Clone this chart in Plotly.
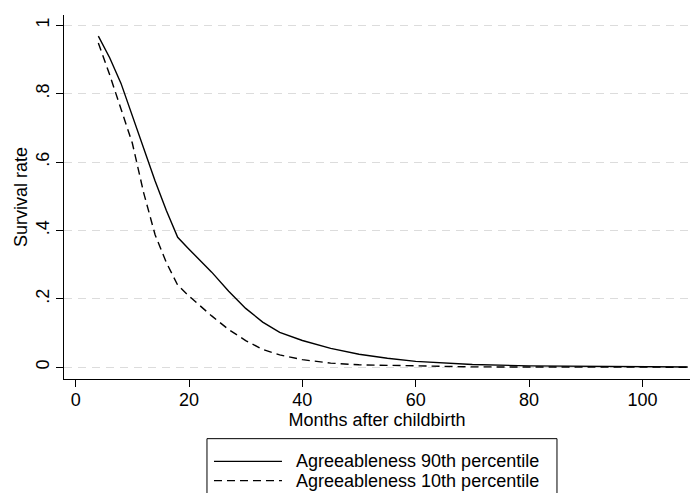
import plotly.graph_objects as go

months_90 = [4, 6, 8, 10, 12, 14, 16, 18, 20, 22, 24, 27, 30, 33, 36, 40, 45, 50, 55, 60, 65, 70, 80, 90, 100, 108]
surv_90 = [0.968, 0.905, 0.83, 0.735, 0.635, 0.545, 0.458, 0.380, 0.345, 0.310, 0.278, 0.222, 0.172, 0.132,
           0.102, 0.078, 0.055, 0.038, 0.026, 0.017, 0.012, 0.008, 0.004, 0.002, 0.001, 0.0005]

months_10 = [4, 6, 8, 10, 12, 14, 16, 18, 20, 22, 24, 27, 30, 33, 36, 40, 45, 50, 55, 60, 70, 80, 90, 100, 108]
surv_10 = [0.948, 0.855, 0.755, 0.655, 0.51, 0.388, 0.306, 0.240, 0.208, 0.178, 0.150, 0.110, 0.078, 0.052,
           0.036, 0.022, 0.012, 0.007, 0.005, 0.003, 0.001, 0.0005, 0.0002, 0.0001, 0.0]

name_90 = "Agreeableness 90th percentile"
name_10 = "Agreeableness 10th percentile"

y_tickvals = [0, 0.2, 0.4, 0.6, 0.8, 1]
y_ticktext = ["0", ".2", ".4", ".6", ".8", "1"]
x_tickvals = [0, 20, 40, 60, 80, 100]

FONT = "Liberation Sans, Arial, Helvetica, sans-serif"

fig = go.Figure()
fig.add_trace(go.Scatter(x=months_90, y=surv_90, mode="lines", name=name_90, showlegend=False,
                         line=dict(color="black", width=1.4)))
fig.add_trace(go.Scatter(x=months_10, y=surv_10, mode="lines", name=name_10, showlegend=False,
                         line=dict(color="black", width=1.4, dash="8px,5px")))

# legend drawn manually (Stata style box below plot)
fig.add_shape(type="rect", xref="paper", yref="paper", x0=0.2284, x1=0.7875, y0=-0.40, y1=-0.1639,
              line=dict(color="black", width=1), fillcolor="white", layer="above")
legend_rows = [(-0.2262, name_90, "solid"), (-0.2792, name_10, "8px,5px")]
for yy, txt, dsh in legend_rows:
    fig.add_shape(type="line", xref="paper", yref="paper", x0=0.2396, x1=0.3482, y0=yy, y1=yy,
                  line=dict(color="black", width=1.4, dash=dsh), layer="above")
    fig.add_annotation(xref="paper", yref="paper", x=0.3674, y=yy, text=txt, showarrow=False,
                       xanchor="left", yanchor="middle", font=dict(size=18, color="black", family=FONT))

fig.update_layout(
    width=691, height=493,
    margin=dict(l=64, r=1, t=15, b=114),
    paper_bgcolor="white", plot_bgcolor="white",
    font=dict(family=FONT, size=18, color="black"),
    showlegend=False,
)
fig.update_xaxes(
    range=[-2.06, 108.4], tickvals=x_tickvals, ticks="outside", ticklen=7, tickwidth=1, tickcolor="black",
    showline=True, linecolor="black", linewidth=1, showgrid=False, zeroline=False,
    ticklabelstandoff=-3,
    title=dict(text="Months after childbirth", standoff=0, font=dict(size=18)),
    tickfont=dict(size=18),
)
fig.update_yaxes(
    range=[-0.0345, 1.030], tickvals=y_tickvals, ticktext=y_ticktext, tickangle=-90,
    ticks="outside", ticklen=7, tickwidth=1, tickcolor="black",
    showline=True, linecolor="black", linewidth=1, zeroline=False,
    showgrid=True, gridcolor="#dcdcdc", gridwidth=1.2, griddash="8px,6px",
    title=dict(text="Survival rate", standoff=0, font=dict(size=18)),
    tickfont=dict(size=18),
)

fig.write_html("out.html", config={"displayModeBar": False},
               post_script="document.body.style.margin='0px';document.body.style.overflow='hidden';")
